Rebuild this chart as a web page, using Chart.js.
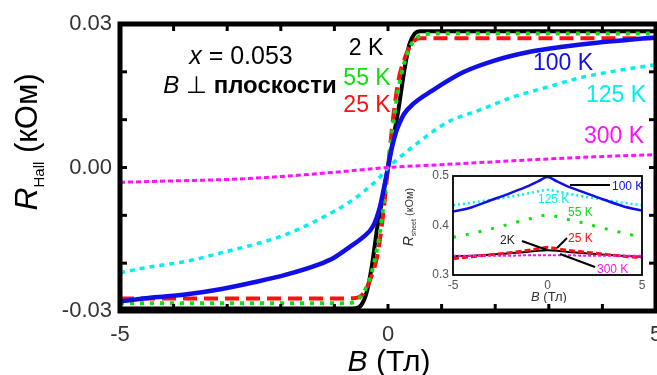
<!DOCTYPE html>
<html><head><meta charset="utf-8">
<script src="https://cdn.jsdelivr.net/npm/chart.js@4.4.1/dist/chart.umd.min.js"></script>
<style>
html,body{margin:0;padding:0;background:#fff;}
#wrap{position:relative;width:657px;height:375px;overflow:hidden;background:#fff;}
#main{position:absolute;left:0;top:0;}
#inset{position:absolute;left:398px;top:166px;}
</style></head><body>
<div id="wrap"><canvas id="main" width="657" height="375"></canvas><canvas id="inset" width="254" height="137"></canvas></div>
<script>
// ---------- Main panel data: Hall resistance R_Hall (kOhm) vs B (T) ----------
const B_2K   = [-5,-3,-1,-0.6,-0.5,-0.4,-0.3,-0.2,-0.1,0,0.1,0.2,0.3,0.4,0.5,0.6,1,3,5];
const R_2K   = [-0.0295,-0.0295,-0.0295,-0.0294,-0.0288,-0.0262,-0.0205,-0.0125,-0.0062,0,0.0062,0.0125,0.0200,0.0258,0.0280,0.0285,0.0285,0.0285,0.0285];
const B_25K  = [-5,-3,-1,-0.6,-0.5,-0.4,-0.3,-0.2,-0.1,0,0.1,0.2,0.3,0.4,0.5,0.6,1,3,5];
const R_25K  = [-0.0274,-0.0274,-0.0274,-0.0273,-0.0268,-0.0252,-0.0225,-0.0185,-0.0108,0,0.0108,0.0185,0.0225,0.0252,0.0266,0.0270,0.0270,0.0270,0.0270];
const B_55K  = [-5,-3,-1,-0.7,-0.55,-0.45,-0.35,-0.25,-0.15,-0.07,0,0.07,0.15,0.25,0.35,0.45,0.55,0.7,1,3,5];
const R_55K  = [-0.0284,-0.0284,-0.0284,-0.0283,-0.0275,-0.0260,-0.0235,-0.0195,-0.0135,-0.0065,0,0.0065,0.0135,0.0195,0.0235,0.0260,0.0272,0.0279,0.0280,0.0280,0.0280];
const B_100K = [-5,-4.4,-3.75,-3.1,-2.5,-1.9,-1.3,-1.0,-0.7,-0.47,-0.28,-0.15,-0.07,0,0.07,0.15,0.22,0.3,0.47,0.8,1.4,2.0,2.65,3.3,3.9,4.5,5];
const R_100K = [-0.0280,-0.0272,-0.0265,-0.0254,-0.0240,-0.0224,-0.0203,-0.0188,-0.0165,-0.0146,-0.0123,-0.0082,-0.0040,0,0.0040,0.0074,0.0094,0.0112,0.0133,0.0159,0.0199,0.0224,0.0242,0.0253,0.0261,0.0267,0.0272];
const B_125K = [-5,-4.4,-3.75,-3.1,-2.5,-1.9,-1.3,-0.65,-0.15,0,0.1,0.47,1.1,1.73,2.35,3.0,3.6,4.2,5];
const R_125K = [-0.0220,-0.0207,-0.0196,-0.0178,-0.0161,-0.0140,-0.0109,-0.0067,-0.0020,0,0.0010,0.0044,0.0094,0.0121,0.0148,0.0169,0.0188,0.0201,0.0215];
const B_300K = [-5,-4,-3,-2,-1,0,1,2,3,4,5];
const R_300K = [-0.0031,-0.0028,-0.0025,-0.0019,-0.0010,0,0.0006,0.0012,0.0018,0.0023,0.0027];
const B_minorTicks = [-4,-3,-2,-1,0,1,2,3,4];
const R_minorTicks = [-0.02,-0.01,0,0.01,0.02];

// ---------- Inset data: R_sheet (kOhm) vs B (T) ----------
const Bi       = [-5,-4,-3,-2,-1,-0.5,0,0.5,1,2,3,4,5];
const Ri_100K  = [0.428,0.437,0.451,0.465,0.480,0.489,0.498,0.489,0.480,0.466,0.452,0.439,0.430];
const Ri_125K  = [0.441,0.446,0.452,0.458,0.465,0.469,0.472,0.469,0.465,0.458,0.452,0.446,0.441];
const Ri_55K   = [0.376,0.384,0.393,0.403,0.413,0.418,0.421,0.418,0.413,0.404,0.394,0.385,0.376];
const Ri_25K   = [0.333,0.337,0.341,0.345,0.350,0.353,0.356,0.353,0.350,0.346,0.342,0.338,0.335];
const Ri_2K    = [0.338,0.339,0.341,0.344,0.347,0.349,0.350,0.349,0.347,0.344,0.341,0.339,0.337];
const Ri_300K  = [0.339,0.339,0.339,0.339,0.340,0.340,0.340,0.340,0.340,0.339,0.339,0.339,0.339];

const FF = '"Liberation Sans", Arial, Helvetica, sans-serif';
const C = {k:'#000000', r:'#ff1010', g:'#10e010', b:'#1010e6', c:'#00f0f0', m:'#ff10ff'};
const pts = (bs, rs) => bs.map((b,i)=>({x:b,y:rs[i]}));
function ds(label, bs, rs, color, width, dash){
  return {label, data:pts(bs,rs), borderColor:color, backgroundColor:color, borderWidth:width,
    borderDash:dash||[], pointRadius:0, cubicInterpolationMode:'monotone', fill:false};
}
function rich(ctx, parts, x, y, align){
  let w=0; parts.forEach(p=>{ctx.font=p.font; p.w=ctx.measureText(p.t).width; w+=p.w;});
  let cx = align==='center' ? x-w/2 : (align==='right' ? x-w : x);
  ctx.textAlign='left'; ctx.textBaseline='alphabetic';
  parts.forEach(p=>{ctx.font=p.font; ctx.fillStyle=p.c||'#000'; ctx.fillText(p.t,cx,y+(p.dy||0)); cx+=p.w;});
}
function seg(ctx,x1,y1,x2,y2){ctx.beginPath();ctx.moveTo(x1,y1);ctx.lineTo(x2,y2);ctx.stroke();}

const mainDeco = {
  id:'mainDeco',
  afterDatasetsDraw(chart){
    const {ctx, chartArea:a, scales:{x,y}} = chart;
    ctx.save();
    ctx.strokeStyle='#000'; ctx.lineWidth=5; ctx.setLineDash([]);
    ctx.strokeRect(a.left,a.top,a.right-a.left,a.bottom-a.top);
    ctx.lineWidth=3;
    B_minorTicks.forEach(v=>{const px=x.getPixelForValue(v); seg(ctx,px,a.bottom,px,a.bottom-7); seg(ctx,px,a.top,px,a.top+7);});
    R_minorTicks.forEach(v=>{const py=y.getPixelForValue(v); seg(ctx,a.left,py,a.left+7,py); seg(ctx,a.right,py,a.right-7,py);});
    ctx.restore();
  },
  afterDraw(chart){
    const {ctx} = chart;
    ctx.save();
    const partsY=[{t:'R',font:'italic 32px '+FF},{t:'Hall',font:'15px '+FF,dy:7},{t:' (кОм)',font:'31px '+FF}];
    ctx.translate(37,142); ctx.rotate(-Math.PI/2);
    rich(ctx, partsY, 0, 0, 'center');
    ctx.setTransform(1,0,0,1,0,0);
    rich(ctx,[{t:'B',font:'italic 30px '+FF},{t:' (Тл)',font:'30px '+FF}],389,371,'center');
    rich(ctx,[{t:'x',font:'italic 25px '+FF},{t:' = 0.053',font:'25px '+FF}],241,64,'center');
    rich(ctx,[{t:'B',font:'italic 24px '+FF},{t:' ⊥ ',font:'24px '+FF},{t:'плоскости',font:'bold 24px '+FF}],250,93,'center');
    const f='23px '+FF;
    rich(ctx,[{t:'2 K',font:f,c:C.k}],366,55,'center');
    rich(ctx,[{t:'55 K',font:f,c:C.g}],367,85,'center');
    rich(ctx,[{t:'25 K',font:f,c:C.r}],367,112,'center');
    rich(ctx,[{t:'100 K',font:f,c:C.b}],563,70,'center');
    rich(ctx,[{t:'125 K',font:f,c:C.c}],616,102,'center');
    rich(ctx,[{t:'300 K',font:f,c:C.m}],614,143,'center');
    ctx.restore();
  }
};

new Chart(document.getElementById('main'), {
  type:'line',
  data:{datasets:[
    ds('300 K',B_300K,R_300K,C.m,3,[5,3]),
    ds('125 K',B_125K,R_125K,C.c,3.5,[5,5]),
    ds('100 K',B_100K,R_100K,C.b,4.5),
    ds('55 K',B_55K,R_55K,C.g,4,[4,6]),
    ds('25 K',B_25K,R_25K,C.r,4,[14,7]),
    ds('2 K',B_2K,R_2K,C.k,4)
  ]},
  options:{
    responsive:false, animation:false, devicePixelRatio:1,
    layout:{padding:{left:0,top:24,right:1,bottom:0}},
    plugins:{legend:{display:false},tooltip:{enabled:false}},
    scales:{
      x:{type:'linear',min:-5,max:5,
        ticks:{stepSize:5,font:{size:22,family:FF},color:'#333',padding:11,maxRotation:0,callback:v=>String(v)},
        grid:{display:false,drawTicks:false},border:{display:false},
        afterFit:s=>{s.height=64; s.paddingLeft=0; s.paddingRight=0;}},
      y:{type:'linear',min:-0.03,max:0.03,
        ticks:{stepSize:0.03,font:{size:22,family:FF},color:'#333',padding:8,
          callback:v=>Math.abs(v)<1e-9?'0.00':v.toFixed(2)},
        grid:{display:false,drawTicks:false},border:{display:false},
        afterFit:s=>{s.width=120; s.paddingTop=0; s.paddingBottom=0;}}
    }
  },
  plugins:[mainDeco]
});

// ---------- Inset ----------
const insetDeco = {
  id:'insetDeco',
  beforeDatasetsDraw(chart){
    const {ctx, chartArea:a} = chart;
    ctx.save(); ctx.fillStyle='#fff'; ctx.fillRect(a.left,a.top,a.right-a.left,a.bottom-a.top); ctx.restore();
  },
  afterDatasetsDraw(chart){
    const {ctx, chartArea:a} = chart;
    ctx.save(); ctx.strokeStyle='#000'; ctx.lineWidth=1.8; ctx.setLineDash([]);
    ctx.strokeRect(a.left,a.top,a.right-a.left,a.bottom-a.top);
    ctx.restore();
  },
  afterDraw(chart){
    const {ctx} = chart;
    ctx.save();
    const partsY=[{t:'R',font:'italic 14px '+FF,c:'#333'},{t:'sheet',font:'7px '+FF,dy:3,c:'#333'},{t:' (кОм)',font:'11px '+FF,c:'#333'}];
    ctx.translate(15,51); ctx.rotate(-Math.PI/2);
    rich(ctx, partsY, 0, 0, 'center');
    ctx.setTransform(1,0,0,1,0,0);
    rich(ctx,[{t:'B',font:'italic 13px '+FF,c:'#333'},{t:' (Тл)',font:'13px '+FF,c:'#333'}],151,135,'center');
    const f='12px '+FF;
    ctx.strokeStyle='#000'; ctx.lineWidth=2;
    seg(ctx,172,19,212,19);
    seg(ctx,124,75,149,84);
    seg(ctx,169,72,159,82);
    seg(ctx,197,101,162,88);
    rich(ctx,[{t:'100 K',font:f,c:C.b}],214,24,'left');
    rich(ctx,[{t:'125 K',font:f,c:C.c}],140,37,'left');
    rich(ctx,[{t:'55 K',font:f,c:C.g}],170,50,'left');
    rich(ctx,[{t:'25 K',font:f,c:C.r}],170,76,'left');
    rich(ctx,[{t:'2K',font:f,c:'#222'}],102,78,'left');
    rich(ctx,[{t:'300 K',font:f,c:C.m}],199,107,'left');
    ctx.restore();
  }
};

new Chart(document.getElementById('inset'), {
  type:'line',
  data:{datasets:[
    ds('100 K',Bi,Ri_100K,C.b,2.5),
    ds('125 K',Bi,Ri_125K,C.c,2.5,[2,3]),
    ds('300 K',Bi,Ri_300K,C.m,2,[3,2]),
    ds('25 K',Bi,Ri_25K,C.r,3,[6,3]),
    ds('2 K',Bi,Ri_2K,C.k,2),
    ds('55 K',Bi,Ri_55K,C.g,3,[3,10])
  ]},
  options:{
    responsive:false, animation:false, devicePixelRatio:1,
    layout:{padding:{left:0,top:10,right:10,bottom:0}},
    plugins:{legend:{display:false},tooltip:{enabled:false}},
    scales:{
      x:{type:'linear',min:-5,max:5,
        ticks:{stepSize:5,font:{size:12,family:FF},color:'#555',padding:3,maxRotation:0,callback:v=>String(v)},
        grid:{display:false,drawTicks:false},border:{display:false},
        afterFit:s=>{s.height=28; s.paddingLeft=0; s.paddingRight=0;}},
      y:{type:'linear',min:0.3,max:0.5,
        ticks:{stepSize:0.1,font:{size:12,family:FF},color:'#555',padding:4,callback:v=>v.toFixed(1)},
        grid:{display:false,drawTicks:false},border:{display:false},
        afterFit:s=>{s.width=55; s.paddingTop=0; s.paddingBottom=0;}}
    }
  },
  plugins:[insetDeco]
});
</script></body></html>
